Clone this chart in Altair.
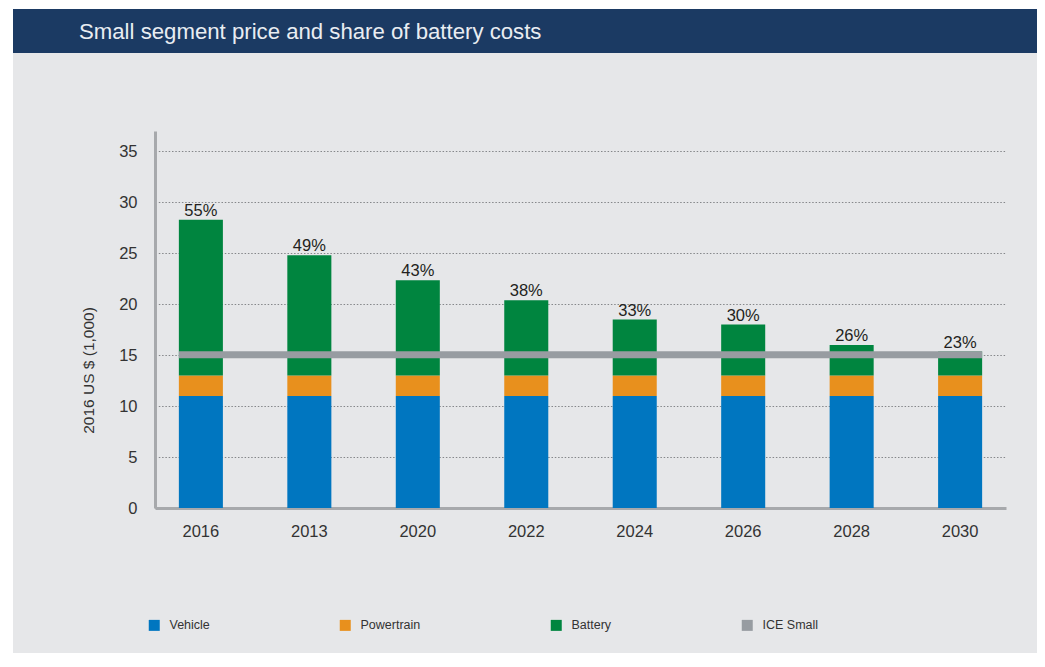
import altair as alt
import pandas as pd

FONT = "Liberation Sans"

# ---- data ----
years = ["2016", "2013", "2020", "2022", "2024", "2026", "2028", "2030"]
vehicle = [11.0, 11.0, 11.0, 11.0, 11.0, 11.0, 11.0, 11.0]
powertrain = [2.0, 2.0, 2.0, 2.0, 2.0, 2.0, 2.0, 2.0]
battery = [15.3, 11.8, 9.35, 7.4, 5.5, 5.0, 3.0, 2.35]
battery_share = ["55%", "49%", "43%", "38%", "33%", "30%", "26%", "23%"]
ice_small = 15.05
components = ["Vehicle", "Powertrain", "Battery", "ICE Small"]
colors = ["#0076c0", "#e8901d", "#00853f", "#979ca1"]
TITLE = "Small segment price and share of battery costs"
Y_TITLE = "2016 US $ (1,000)"

# ---- tables ----
rows = []
for i, yr in enumerate(years):
    for j, (name, vals) in enumerate(
        [("Vehicle", vehicle), ("Powertrain", powertrain), ("Battery", battery)]
    ):
        rows.append({"year": yr, "component": name, "value": vals[i], "order": j})
long_df = pd.DataFrame(rows)

tot_df = pd.DataFrame(
    {
        "year": years,
        "total": [v + p + b for v, p, b in zip(vehicle, powertrain, battery)],
        "share": battery_share,
    }
)
ice_df = pd.DataFrame({"start": [years[0]], "end": [years[-1]], "ice": [ice_small]})
one = pd.DataFrame({"k": [0]})

xscale = alt.Scale(domain=years, paddingInner=0.594, paddingOuter=0.22)
yscale = alt.Scale(domain=[0, 37], nice=False)

# ---- decoration ----
left_strip = alt.Chart(one).mark_rect(color="white").encode(
    x=alt.value(-147), x2=alt.value(-142), y=alt.value(-123), y2=alt.value(522)
)
top_strip = alt.Chart(one).mark_rect(color="white").encode(
    x=alt.value(-147), x2=alt.value(890), y=alt.value(-123), y2=alt.value(-122)
)
header = alt.Chart(one).mark_rect(color="#1b3a63").encode(
    x=alt.value(-142), x2=alt.value(885), y=alt.value(-122), y2=alt.value(-78)
)
title_txt = alt.Chart(one).mark_text(
    align="left", baseline="middle", fontSize=22.2, color="#e9edf2", font=FONT
).encode(x=alt.value(-76), y=alt.value(-99), text=alt.value(TITLE))

# ---- data marks ----
bars = alt.Chart(long_df).mark_bar().encode(
    x=alt.X(
        "year:N",
        scale=xscale,
        sort=years,
        axis=alt.Axis(
            title=None,
            labelAngle=0,
            ticks=False,
            labelPadding=15,
            labelFontSize=16.5,
            labelColor="#333333",
            domainColor="#a7a9ac",
            domainWidth=3,
            grid=False,
        ),
    ),
    y=alt.Y(
        "value:Q",
        stack="zero",
        scale=yscale,
        axis=alt.Axis(
            values=[0, 5, 10, 15, 20, 25, 30, 35],
            title=Y_TITLE,
            titleX=-67,
            titleY=239,
            titleAlign="center",
            titleBaseline="middle",
            titleFontSize=15.5,
            titleFontWeight="normal",
            titleColor="#333333",
            labelFontSize=16.5,
            labelColor="#333333",
            labelPadding=18,
            ticks=False,
            grid=True,
            gridDash=[1.5, 1.8],
            gridColor="#85878a",
            gridWidth=1,
            domainColor="#a7a9ac",
            domainWidth=3,
        ),
    ),
    color=alt.Color(
        "component:N",
        scale=alt.Scale(domain=components, range=colors),
        legend=alt.Legend(
            title=None,
            orient="none",
            legendX=-7,
            legendY=488,
            direction="horizontal",
            symbolType="square",
            symbolSize=121,
            symbolStrokeWidth=0,
            labelFontSize=12.5,
            labelColor="#333333",
            labelFont=FONT,
            labelOffset=9,
            columnPadding=129,
            padding=0,
        ),
    ),
    order=alt.Order("order:Q"),
)

ice = alt.Chart(ice_df).mark_rule(strokeWidth=7, color="#979ca1").encode(
    x=alt.X("start:N", bandPosition=0, scale=xscale),
    x2=alt.X2("end", bandPosition=1),
    y=alt.Y("ice:Q", scale=yscale),
)

labels = alt.Chart(tot_df).mark_text(
    baseline="bottom", dy=-1, fontSize=16.5, color="#231f20", font=FONT
).encode(
    x=alt.X("year:N", scale=xscale),
    y=alt.Y("total:Q", scale=yscale),
    text="share:N",
)

chart = (
    alt.layer(left_strip, top_strip, header, title_txt, bars, ice, labels)
    .properties(
        width=851,
        height=377,
        autosize=alt.AutoSizeParams(type="none"),
        padding={"left": 147, "top": 123, "right": 31, "bottom": 145},
        background="#e6e7e9",
    )
    .configure(font=FONT)
    .configure_view(stroke=None)
)

chart.save("out.html", embed_options={"renderer": "svg", "actions": False})
